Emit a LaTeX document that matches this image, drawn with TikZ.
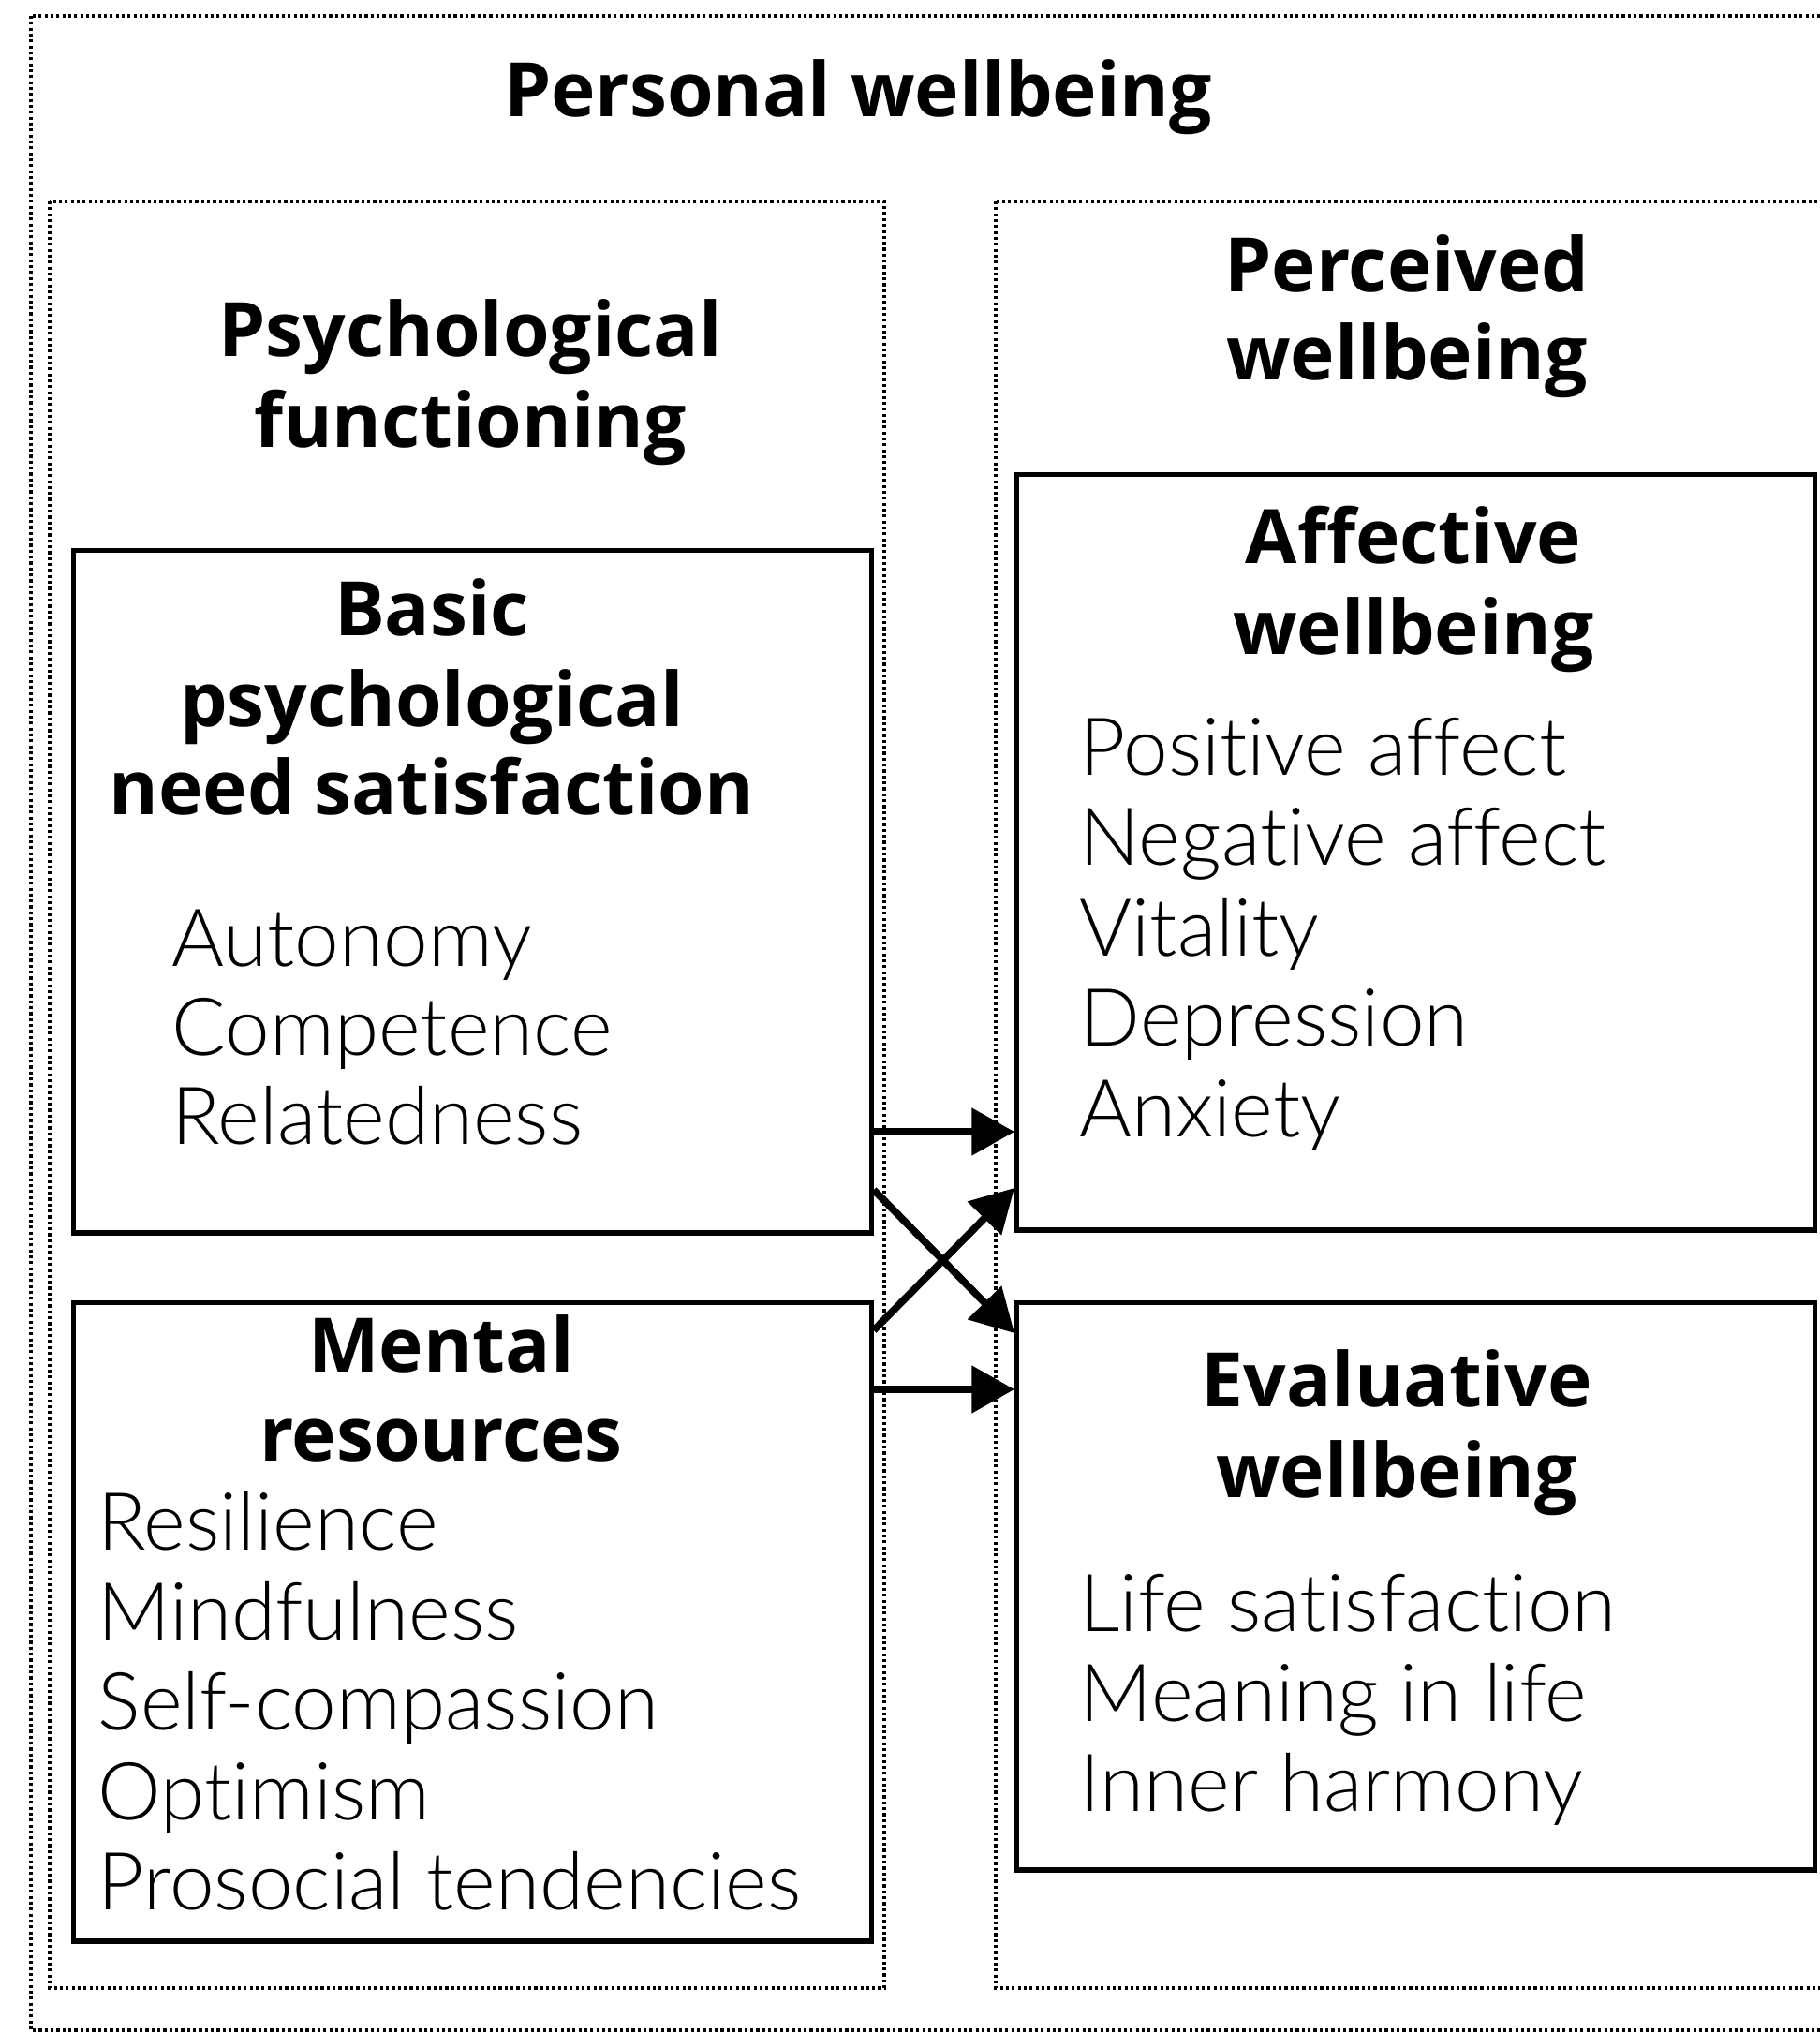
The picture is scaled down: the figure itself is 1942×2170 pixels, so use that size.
\documentclass[tikz,border=0pt]{standalone}
\usepackage{fontspec}
\setmainfont{Open Sans}
\newfontfamily\lightfont{Lato Light}[Ligatures=NoCommon]
\usetikzlibrary{arrows.meta}
\usetikzlibrary{positioning}

\tikzset{
  group/.style={draw, line width=1.1pt, dash pattern=on 0.9pt off 0.9pt},
  panel/.style={draw, line width=1.5pt, inner sep=0pt, anchor=north west},
  heading/.style={font=\fontsize{22.8}{27}\selectfont\bfseries, anchor=mid, inner sep=0pt},
  entry/.style={font=\fontsize{24.3}{28}\lightfont, anchor=mid west, inner sep=0pt},
  link/.style={line width=2.2pt, -{Triangle[length=13pt,width=14pt]}},
}

\begin{document}
\begin{tikzpicture}[x=0.01cm, y=-0.01cm]
	\useasboundingbox (0,0) rectangle (1942,2170);

	% dotted frames
	\draw[group] (33,17) rectangle (2000,2167);
	\draw[group] (53,215) rectangle (944,2122);
	\draw[group] (1063,215) rectangle (2000,2122);

	\node[heading] (personal) at (916,115) {Personal wellbeing};
	\node[heading] (psych1) at (502,371) {Psychological};
	\node[heading] (psych2) at (502,468) {functioning};
	\node[heading] (perc1) at (1502,302) {Perceived};
	\node[heading] (perc2) at (1502,396) {wellbeing};

	% the four boxes
	\node[panel, minimum width=8.51cm, minimum height=7.28cm] (basic) at (76,585) {};
	\node[panel, minimum width=8.51cm, minimum height=6.81cm] (mental) at (76,1388) {};
	\node[panel, minimum width=8.51cm, minimum height=8.06cm] (affect) at (1083,504) {};
	\node[panel, minimum width=8.51cm, minimum height=6.05cm] (eval) at (1083,1388) {};

	\node[heading] (basic1) at (461,669) {Basic};
	\node[heading] (basic2) at (461,766) {psychological};
	\node[heading] (basic3) at (461,860) {need satisfaction};
	\foreach \txt [count=\i from 0] in {Autonomy, Competence, Relatedness}
		\node[entry] (need\i) at (183,1022+95*\i) {\txt};

	\node[heading] (mental1) at (471,1455) {Mental};
	\node[heading] (mental2) at (471,1550) {resources};
	\foreach \txt [count=\i from 0] in {Resilience, Mindfulness, Self-compassion, Optimism, Prosocial tendencies}
		\node[entry] (res\i) at (104,1645+96*\i) {\txt};

	\node[heading] (affect1) at (1509,592) {Affective};
	\node[heading] (affect2) at (1509,689) {wellbeing};
	\foreach \txt [count=\i from 0] in {Positive affect, Negative affect, Vitality, Depression, Anxiety}
		\node[entry] (aff\i) at (1152,818+96.5*\i) {\txt};

	\node[heading] (eval1) at (1491,1492) {Evaluative};
	\node[heading] (eval2) at (1491,1589) {wellbeing};
	\foreach \txt [count=\i from 0] in {Life satisfaction, Meaning in life, Inner harmony}
		\node[entry] (life\i) at (1152,1732+96*\i) {\txt};

	% links between the boxes
	\draw[link] (basic.east |- 0,1208) -- (affect.west |- 0,1208);
	\draw[link] (basic.east |- 0,1270) -- (eval.west |- 0,1423);
	\draw[link] (mental.east |- 0,1420) -- (affect.west |- 0,1268);
	\draw[link] (mental.east |- 0,1483) -- (eval.west |- 0,1483);
\end{tikzpicture}
\end{document}
